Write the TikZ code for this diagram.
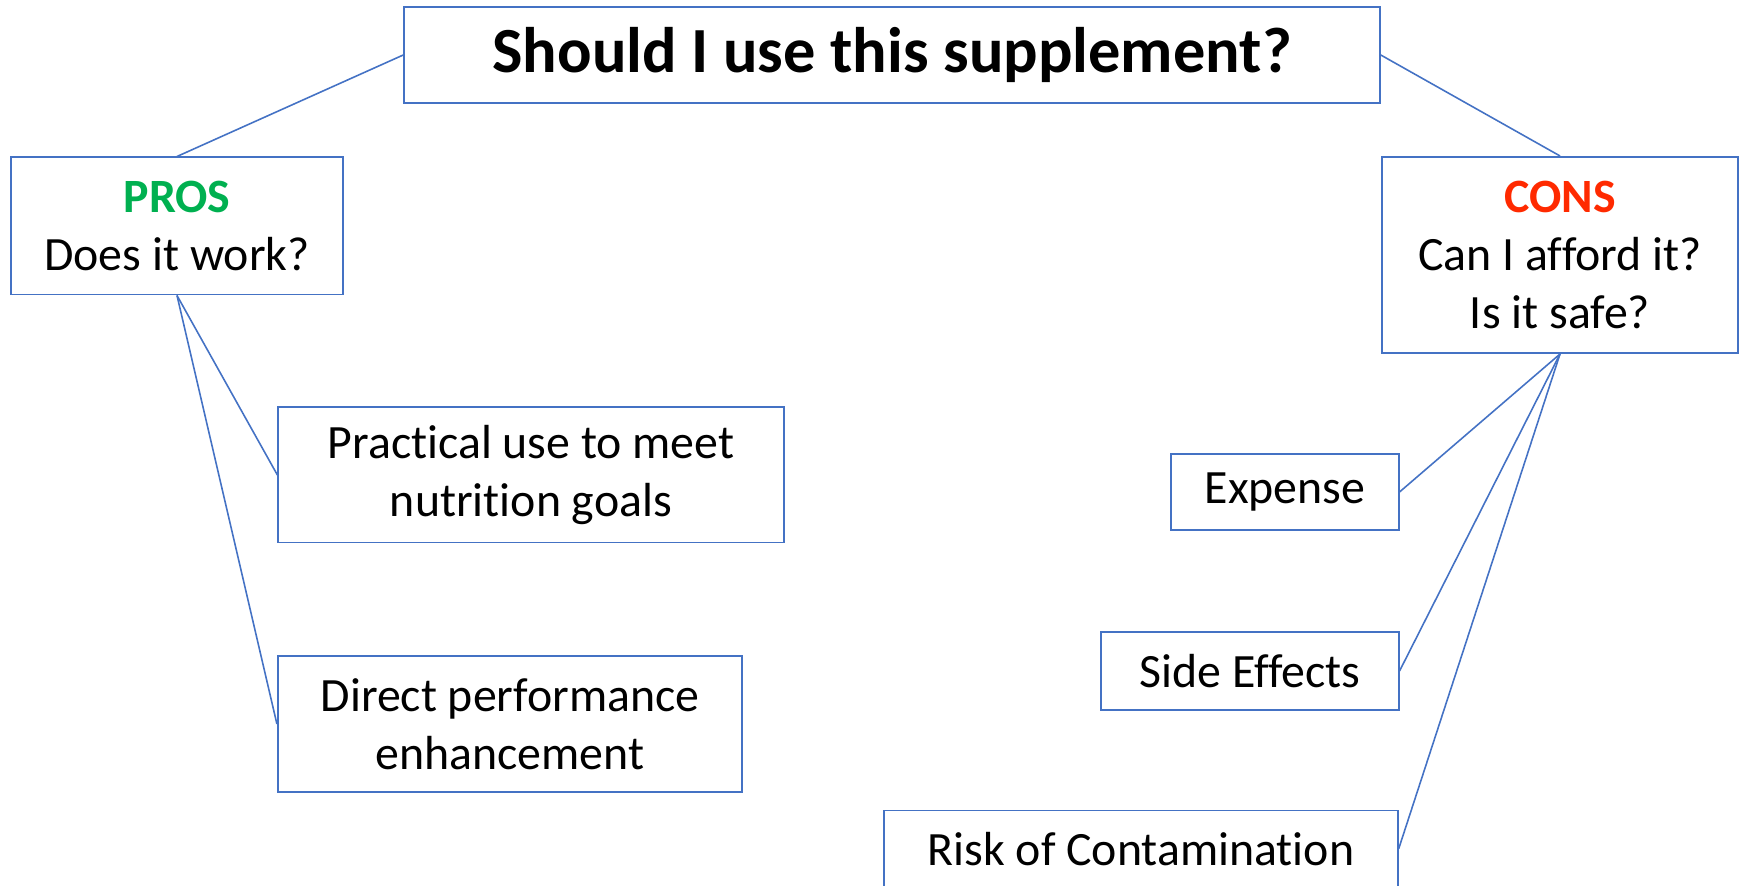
\documentclass[tikz,border=0pt]{standalone}
\usepackage{fontspec}
\setmainfont{Carlito}[Ligatures=NoCommon]

\definecolor{boxblue}{HTML}{4472C4}
\definecolor{prosgreen}{HTML}{00B050}
\definecolor{consred}{HTML}{FF2A00}

\begin{document}
\begin{tikzpicture}
[x=0.01cm,y=-0.01cm,
  boxDecorate/.style={draw=boxblue,line width=0.55pt,inner sep=0pt,align=center,%
    font=\fontsize{13.6}{16.5}\selectfont},%
  lineDecorate/.style={-,draw=boxblue,line width=0.45pt}]
\useasboundingbox (0,0) rectangle (1739,886);
%% question on top
\node (question) at (892,55) [boxDecorate,minimum width=9.75cm,minimum height=0.96cm,
  font=\fontsize{18.3}{22}\selectfont\bfseries] {Should I use this supplement?};
%% the two sides
\node (pros) at (177,226) [boxDecorate,minimum width=3.32cm,minimum height=1.37cm]
  {\textcolor{prosgreen}{\bfseries PROS}\\Does it work?};
\node (cons) at (1560,255) [boxDecorate,minimum width=3.55cm,minimum height=1.96cm]
  {\textcolor{consred}{\bfseries CONS}\\Can I afford it?\\Is it safe?};
%% points under each side
\foreach \nodename/\x/\y/\w/\h/\txt in {
  practical/531/475/5.05/1.35/{Practical use to meet\\nutrition goals},
  direct/510/724/4.64/1.35/{Direct performance\\enhancement},
  expense/1285/492/2.27/0.76/{Expense},
  side/1250/671/2.97/0.78/{Side Effects},
  risk/1141/849/5.13/0.77/{Risk of Contamination}}
{
  \node (\nodename) at (\x,\y) [boxDecorate,minimum width=\w cm,minimum height=\h cm] {\txt};
}
%% lines
\path
\foreach \startnode/\endnode in {question.west/pros.north, question.east/cons.north,
  pros.south/practical.west, pros.south/direct.west,
  cons.south/expense.east, cons.south/side.east, cons.south/risk.east}
{
  (\startnode) edge[lineDecorate] (\endnode)
};
\end{tikzpicture}
\end{document}
